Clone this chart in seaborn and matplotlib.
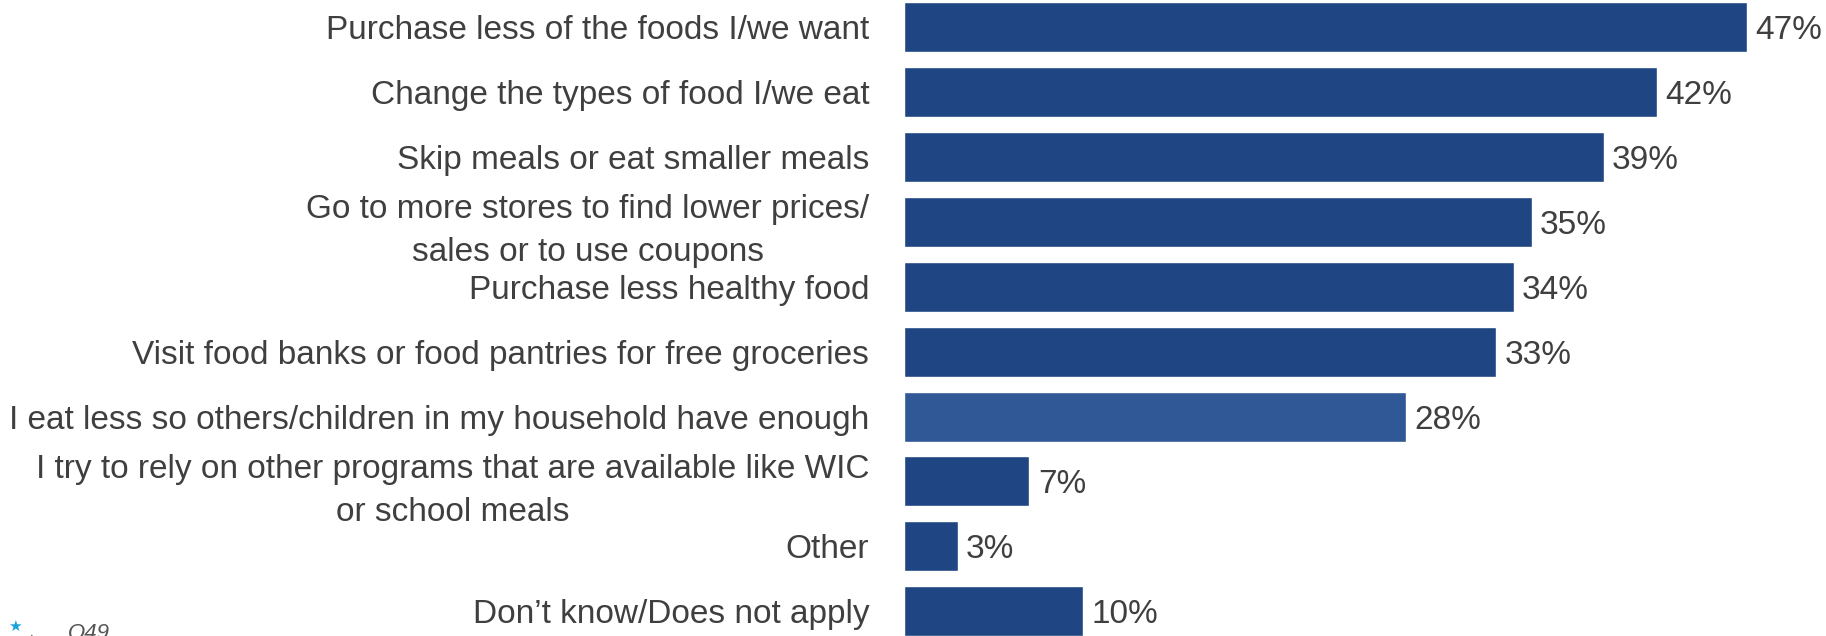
import matplotlib
matplotlib.use("Agg")
import matplotlib.pyplot as plt
import seaborn as sns
import pandas as pd

# Survey responses: ways households coped with food costs
categories = [
    "Purchase less of the foods I/we want",
    "Change the types of food I/we eat",
    "Skip meals or eat smaller meals",
    "Go to more stores to find lower prices/\nsales or to use coupons",
    "Purchase less healthy food",
    "Visit food banks or food pantries for free groceries",
    "I eat less so others/children in my household have enough",
    "I try to rely on other programs that are available like WIC\nor school meals",
    "Other",
    "Don\u2019t know/Does not apply",
]
percentages = [47, 42, 39, 35, 34, 33, 28, 7, 3, 10]
value_labels = ["47%", "42%", "39%", "35%", "34%", "33%", "28%", "7%", "3%", "10%"]

DARK = "#1F4682"
LIGHT = "#305896"
TEXT = "#3F3F3F"
bar_colors = [LIGHT if c.startswith("I eat less") else DARK for c in categories]

sns.set_theme(style="white")
plt.rcParams["font.family"] = ["Liberation Sans", "DejaVu Sans"]

df = pd.DataFrame({"category": categories, "pct": percentages})

fig = plt.figure(figsize=(18.26, 6.36), dpi=100)
ax = fig.add_axes([0.495, 0.0, 0.505, 1.0])

sns.barplot(data=df, y="category", x="pct", hue="category", palette=bar_colors,
            legend=False, width=0.77, saturation=1, ax=ax)

ax.set_xlim(0, 51.4)
ax.set_ylim(9.379, -0.4125)
ax.set_xlabel("")
ax.set_ylabel("")
ax.set_xticks([])
for s in ax.spines.values():
    s.set_visible(False)

ax.tick_params(axis="y", length=0, pad=25, labelsize=24, labelcolor=TEXT)
for lab in ax.get_yticklabels():
    lab.set_multialignment("center")
    lab.set_linespacing(1.5)

for i, (v, t) in enumerate(zip(percentages, value_labels)):
    ax.annotate(t, xy=(v, i), xytext=(6, 0), textcoords="offset points",
                va="center_baseline", ha="left", fontsize=24, color=TEXT)

# footnote marker, logo fragment and question reference at the bottom-left
fig.text(0.0045, 0.003, "\u2605", color="#1AA0DC", fontsize=11,
         family=["DejaVu Sans"], va="bottom")
fig.text(0.014, -0.018, "\u25B2", color="#5A4632", fontsize=11,
         family=["DejaVu Sans"], va="bottom")
fig.text(0.037, -0.012, "Q49.", color="#555555", fontsize=16, style="italic",
         va="bottom")

fig.savefig("out.png", dpi=100)
